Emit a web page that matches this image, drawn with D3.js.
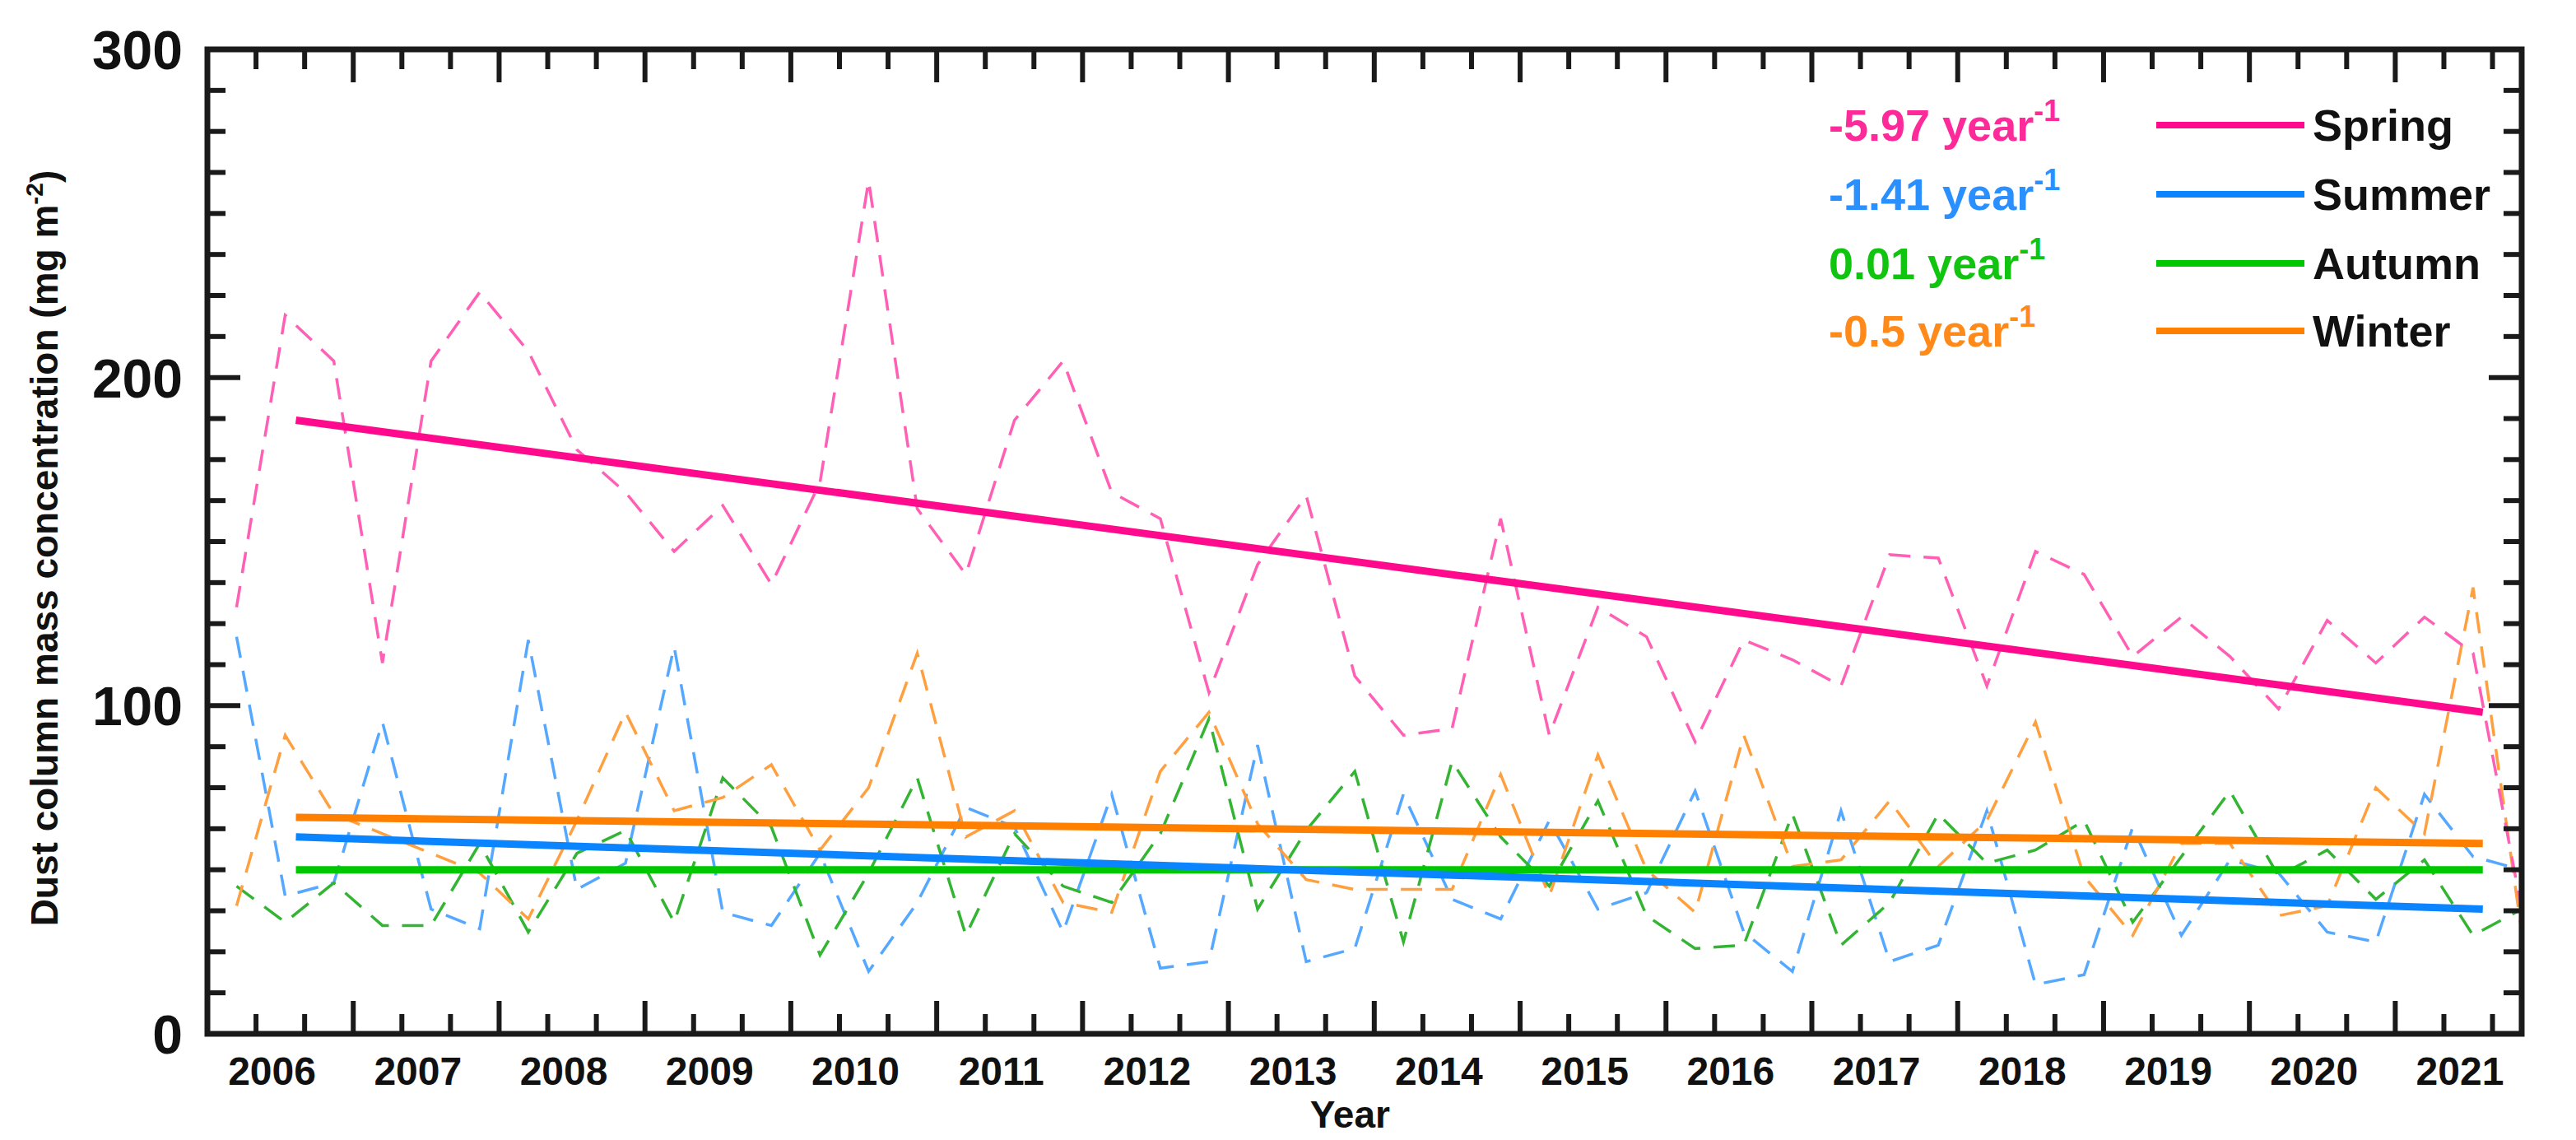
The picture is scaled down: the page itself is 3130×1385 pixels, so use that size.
<!DOCTYPE html>
<html><head><meta charset="utf-8">
<script src="https://cdn.jsdelivr.net/npm/d3@7"></script>
<style>body{margin:0;background:#fff}svg{display:block}text{font-family:"Liberation Sans",Arial,sans-serif;font-weight:bold}</style>
</head><body><svg id="c" width="3130" height="1385"></svg>
<script>
// Seasonal (3 monthly values per year) dust column mass, 2006–2021
const seasons = ["Spring","Summer","Autumn","Winter"];
const spring = [130,219,205,113,205,226,208,178,165,147,161,137,168,260,160,140,187,205,165,157,104,143,164,109,91,93,157,91,130,121,89,120,114,106,146,145,106,147,140,115,127,115,99,126,113,127,116,38];
const summer = [121,42,46,95,38,32,120,44,52,118,37,33,55,19,40,69,63,31,73,20,22,88,22,26,73,41,35,65,38,43,74,31,19,68,22,27,68,15,18,63,30,53,49,31,28,73,54,50];
const autumn = [45,34,46,33,33,58,31,55,62,34,78,63,24,49,78,30,61,45,40,61,96,38,62,80,28,83,60,45,71,36,26,27,67,27,40,67,52,56,65,34,54,74,48,56,41,53,30,38];
const winter = [39,91,67,61,55,49,35,65,98,68,72,82,56,75,116,60,68,40,37,80,98,64,47,44,44,44,79,42,85,50,37,91,51,53,71,51,65,95,48,30,58,58,36,39,75,61,136,31];
const trendStart = [187,60,50,66];
const trendEnd = [98,38,50,58];
const trendIdx = [1.22,46.2];
const slopes = ["-5.97","-1.41","0.01","-0.5"];
const years = d3.range(2006,2022);
const yTicks = [0,100,200,300];

const series=[spring,summer,autumn,winter];
const solidCol=["#ff0a8c","#0a84ff","#00c800","#ff7f00"];
const dashCol=["#ff5fb4","#55a8ff","#33b533","#ffa040"];
const textCol=["#ff2a9a","#2a90ff","#10c410","#ff8a1a"];

const svg=d3.select("#c");
const L=252,R=3064,T=60,B=1256;
const x=d3.scaleLinear().domain([-0.6,47]).range([L,R]);
const y=d3.scaleLinear().domain([0,300]).range([B,T]);

svg.append("clipPath").attr("id","clip").append("rect").attr("x",L).attr("y",T).attr("width",R-L).attr("height",B-T);

const line=d3.line().x((d,i)=>x(i)).y(d=>y(d));
const g=svg.append("g").attr("clip-path","url(#clip)");
[1,2,3,0].forEach(s=>{
  g.append("path").attr("d",line(series[s])).attr("fill","none").attr("stroke",dashCol[s])
   .attr("stroke-width",3.5).attr("stroke-dasharray","26,16");
});
[2,1,3,0].forEach(s=>{
  g.append("line").attr("x1",x(trendIdx[0])).attr("x2",x(trendIdx[1]))
   .attr("y1",y(trendStart[s])).attr("y2",y(trendEnd[s]))
   .attr("stroke",solidCol[s]).attr("stroke-width",9);
});

// ticks
const tk=svg.append("g").attr("stroke","#1a1a1a").attr("stroke-width",6);
d3.range(0,24.01,1).map(k=>k*12.5).forEach(v=>{
  const len=(v%100===0)?40:22;
  if(v===0||v===300) return;
  tk.append("line").attr("x1",L).attr("x2",L+len).attr("y1",y(v)).attr("y2",y(v));
  tk.append("line").attr("x1",R).attr("x2",R-len).attr("y1",y(v)).attr("y2",y(v));
});
d3.range(0,47).forEach(k=>{
  const v=k+0.4, len=(k%3===2)?40:24;
  tk.append("line").attr("x1",x(v)).attr("x2",x(v)).attr("y1",B).attr("y2",B-len);
  tk.append("line").attr("x1",x(v)).attr("x2",x(v)).attr("y1",T).attr("y2",T+len);
});
svg.append("rect").attr("x",L).attr("y",T).attr("width",R-L).attr("height",B-T)
  .attr("fill","none").attr("stroke","#1a1a1a").attr("stroke-width",7);

// tick labels
yTicks.forEach(v=>svg.append("text").attr("x",222).attr("y",y(v)+24).attr("text-anchor","end")
  .attr("font-size",66).attr("fill","#111").text(v));
years.forEach(yr=>svg.append("text").attr("x",x(0.73+3*(yr-2006))).attr("y",1318).attr("text-anchor","middle")
  .attr("font-size",48).attr("fill","#111").text(yr));
svg.append("text").attr("x",x(22.9)).attr("y",1370).attr("text-anchor","middle").attr("font-size",46).attr("fill","#111").text("Year");
const yt=svg.append("text").attr("transform",`translate(70,${(T+B)/2+8}) rotate(-90)`).attr("text-anchor","middle")
  .attr("font-size",46).attr("fill","#111");
yt.append("tspan").text("Dust column mass concentration (mg m");
yt.append("tspan").attr("dy",-18).attr("font-size",30).text("-2");
yt.append("tspan").attr("dy",18).text(")");

// legend + slopes
const ly=[152,236,320,402];
seasons.forEach((s,i)=>{
  const t=svg.append("text").attr("x",2222).attr("y",ly[i]+19).attr("font-size",54).attr("fill",textCol[i]);
  t.append("tspan").text(slopes[i]+" year");
  t.append("tspan").attr("dy",-24).attr("font-size",36).text("-1");
  svg.append("line").attr("x1",2620).attr("x2",2800).attr("y1",ly[i]).attr("y2",ly[i]).attr("stroke",solidCol[i]).attr("stroke-width",8);
  svg.append("text").attr("x",2810).attr("y",ly[i]+19).attr("font-size",54).attr("fill","#111").text(s);
});
</script></body></html>
